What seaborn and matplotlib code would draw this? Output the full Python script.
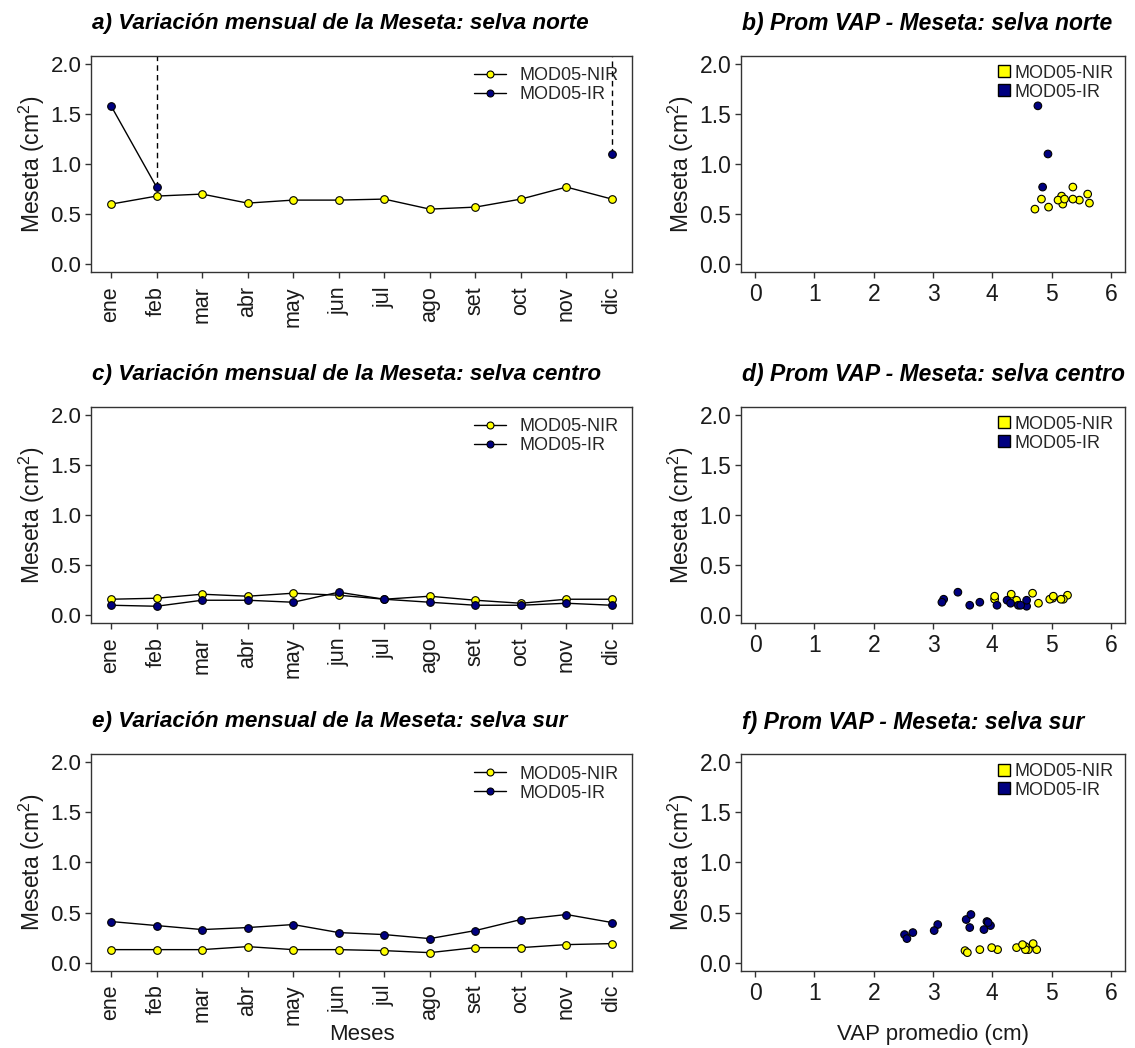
import numpy as np
import pandas as pd
import matplotlib
matplotlib.use("Agg")
import matplotlib.pyplot as plt
import seaborn as sns
from matplotlib.lines import Line2D
from matplotlib.ticker import FormatStrFormatter

# ---------------- data ----------------
months = ['ene', 'feb', 'mar', 'abr', 'may', 'jun', 'jul', 'ago', 'set', 'oct', 'nov', 'dic']
series_names = ['MOD05-NIR', 'MOD05-IR']

nir_norte = [0.60, 0.68, 0.70, 0.61, 0.64, 0.64, 0.65, 0.55, 0.57, 0.65, 0.77, 0.65]
ir_norte = [1.58, 0.77, np.nan, np.nan, np.nan, np.nan, np.nan, np.nan, np.nan, np.nan, np.nan, 1.10]
ir_norte_offscale = ['feb', 'dic']   # IR series runs off the top of the scale from these months

nir_centro = [0.16, 0.17, 0.21, 0.19, 0.22, 0.20, 0.16, 0.19, 0.15, 0.12, 0.16, 0.16]
ir_centro = [0.10, 0.09, 0.15, 0.15, 0.13, 0.23, 0.16, 0.13, 0.10, 0.10, 0.12, 0.10]

nir_sur = [0.13, 0.13, 0.13, 0.16, 0.13, 0.13, 0.12, 0.10, 0.15, 0.15, 0.18, 0.19]
ir_sur = [0.41, 0.37, 0.33, 0.35, 0.38, 0.30, 0.28, 0.24, 0.32, 0.43, 0.48, 0.40]

vap_nir_norte = [5.19, 5.17, 5.61, 5.64, 5.11, 5.47, 4.83, 4.72, 4.95, 5.22, 5.36, 5.36]
vap_ir_norte = [4.77, 4.85, np.nan, np.nan, np.nan, np.nan, np.nan, np.nan, np.nan, np.nan, np.nan, 4.94]

vap_nir_centro = [4.04, 5.02, 4.32, 4.04, 4.68, 5.27, 4.97, 5.03, 4.41, 4.78, 5.20, 5.16]
vap_ir_centro = [4.08, 4.58, 4.25, 4.58, 3.79, 3.42, 3.18, 3.15, 3.62, 4.44, 4.31, 4.48]

vap_nir_sur = [3.79, 4.61, 4.75, 4.56, 4.09, 4.56, 3.54, 3.58, 3.99, 4.41, 4.51, 4.69]
vap_ir_sur = [3.91, 3.97, 3.86, 3.62, 3.08, 2.66, 2.52, 2.56, 3.02, 3.56, 3.64, 3.93]

titles_left = ['a) Variación mensual de la Meseta: selva norte',
               'c) Variación mensual de la Meseta: selva centro',
               'e) Variación mensual de la Meseta: selva sur']
titles_right = ['b) Prom VAP - Meseta: selva norte',
                'd) Prom VAP - Meseta: selva centro',
                'f) Prom VAP - Meseta: selva sur']

YEL = '#FFFF00'
NAVY = '#000080'
colors = [YEL, NAVY]

# ---------------- style ----------------
sns.set_style('ticks')
plt.rcParams['font.family'] = ['Liberation Sans', 'DejaVu Sans']
plt.rcParams['mathtext.fontset'] = 'custom'
plt.rcParams['mathtext.rm'] = 'Liberation Sans'
plt.rcParams['mathtext.it'] = 'Liberation Sans:italic'
plt.rcParams['mathtext.bf'] = 'Liberation Sans:bold'

W, H = 1135, 1048
fig = plt.figure(figsize=(W / 100, H / 100), dpi=100)
fig.patch.set_facecolor('white')


def axes_px(x0, y0, x1, y1):
    return fig.add_axes([x0 / W, 1 - y1 / H, (x1 - x0) / W, (y1 - y0) / H])


rows = [(55.7, 272.3), (406.7, 623.3), (754.0, 970.7)]
LX = (91, 632)
RX = (741, 1125)
TXT = '#1a1a1a'


def style_axes(ax, tick_size):
    for s in ax.spines.values():
        s.set_visible(True)
        s.set_color('#333333')
        s.set_linewidth(1.0)
    ax.set_ylim(-0.08, 2.08)
    ax.set_yticks([0, 0.5, 1.0, 1.5, 2.0])
    ax.yaxis.set_major_formatter(FormatStrFormatter('%.1f'))
    ax.tick_params(axis='both', direction='out', length=4, width=1,
                   color='#333333', labelcolor=TXT, labelsize=tick_size, pad=3)
    ax.set_facecolor('white')


def line_panel(ax, nir, ir, offscale=()):
    idx = np.arange(len(months))
    for vals, col in zip([nir, ir], colors):
        s = pd.Series(vals, dtype=float)
        df = pd.DataFrame({'x': idx, 'y': s, 'seg': s.isna().cumsum()}).dropna()
        sns.lineplot(data=df, x='x', y='y', units='seg', estimator=None,
                     color='black', lw=1, marker='o', markersize=5.5,
                     markerfacecolor=col, markeredgecolor='black',
                     markeredgewidth=0.8, ax=ax, legend=False)
    for m in offscale:
        i = months.index(m)
        ax.vlines(i, ir[i], 2.5, colors='black', linestyles=(0, (4, 3)),
                  lw=1, zorder=1.5)
    style_axes(ax, 16)
    ax.set_xlim(-0.44, 11.44)
    ax.set_xticks(idx)
    ax.set_xticklabels(months, rotation=90, fontsize=15.5)
    ax.tick_params(axis='x', pad=6)
    ax.set_xlabel('')
    ax.set_ylabel('Meseta (cm$^{2}$)', fontsize=16.5, color=TXT)
    ax.yaxis.set_label_coords(-0.081, 0.5)
    handles = [Line2D([0], [0], color='black', lw=1, marker='o', markersize=5,
                      markerfacecolor=c, markeredgecolor='black', markeredgewidth=0.8)
               for c in colors]
    ax.legend(handles, series_names, loc='upper left',
              bbox_to_anchor=(0.708, 1 - 11.5 / 216.6), frameon=False,
              fontsize=13, handlelength=1.75, handletextpad=0.75,
              labelspacing=0.12, borderpad=0, borderaxespad=0)


def scatter_panel(ax, vap_nir, nir, vap_ir, ir):
    df = pd.concat([
        pd.DataFrame({'vap': vap_nir, 'meseta': nir, 'sensor': series_names[0]}),
        pd.DataFrame({'vap': vap_ir, 'meseta': ir, 'sensor': series_names[1]}),
    ]).dropna()
    sns.scatterplot(data=df, x='vap', y='meseta', hue='sensor',
                    hue_order=series_names, palette=colors, s=30,
                    edgecolor='black', linewidth=0.8, legend=False, ax=ax)
    style_axes(ax, 16.5)
    ax.set_xlim(-0.24, 6.24)
    ax.set_xticks(range(7))
    ax.tick_params(axis='x', pad=4)
    ax.set_xlabel('')
    ax.set_ylabel('Meseta (cm$^{2}$)', fontsize=16.5, color=TXT)
    ax.yaxis.set_label_coords(-0.117, 0.5)
    handles = [Line2D([0], [0], ls='', marker='s', markersize=9,
                      markerfacecolor=c, markeredgecolor='black', markeredgewidth=1)
               for c in colors]
    ax.legend(handles, series_names, loc='upper left',
              bbox_to_anchor=(0.668, 1 - 9.0 / 216.6), frameon=False,
              fontsize=13, handlelength=0.7, handletextpad=0.25,
              labelspacing=0.1, borderpad=0, borderaxespad=0)


line_data = [(nir_norte, ir_norte, ir_norte_offscale),
             (nir_centro, ir_centro, ()),
             (nir_sur, ir_sur, ())]
scatter_data = [(vap_nir_norte, nir_norte, vap_ir_norte, ir_norte),
                (vap_nir_centro, nir_centro, vap_ir_centro, ir_centro),
                (vap_nir_sur, nir_sur, vap_ir_sur, ir_sur)]

for r, (y0, y1) in enumerate(rows):
    axl = axes_px(LX[0], y0, LX[1], y1)
    line_panel(axl, *line_data[r])
    axr = axes_px(RX[0], y0, RX[1], y1)
    scatter_panel(axr, *scatter_data[r])

    ty = y0 - 32
    fig.text(92 / W, 1 - ty / H, titles_left[r], fontsize=16.2, fontweight='bold',
             fontstyle='italic', ha='left', va='center', color='black')
    fig.text(742 / W, 1 - ty / H, titles_right[r], fontsize=16.5, fontweight='bold',
             fontstyle='italic', ha='left', va='center', color='black')

    if r == 2:
        axl.set_xlabel('Meses', fontsize=16, color=TXT)
        axl.xaxis.set_label_coords(0.5, -0.245)
        axr.set_xlabel('VAP promedio (cm)', fontsize=16, color=TXT)
        axr.xaxis.set_label_coords(0.5, -0.245)

fig.savefig('out.png', dpi=100, facecolor='white')
